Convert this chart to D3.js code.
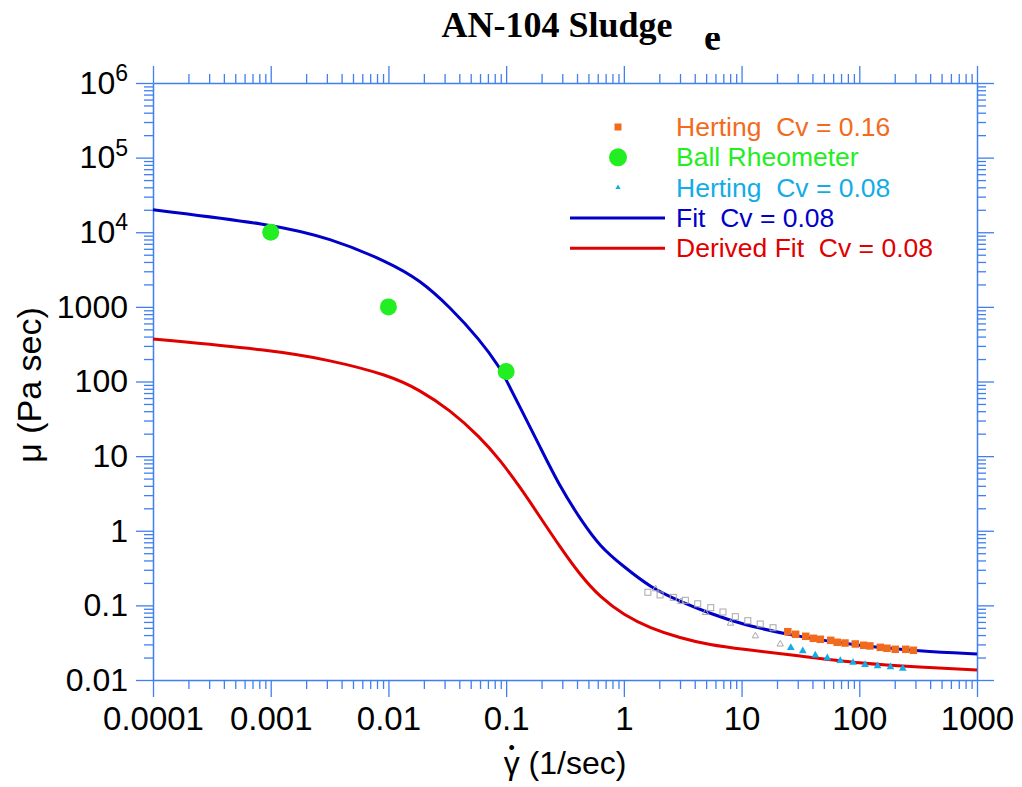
<!DOCTYPE html>
<html>
<head>
<meta charset="utf-8">
<script src="https://cdn.jsdelivr.net/npm/d3@7"></script>
<style>
  body { margin: 0; background: #fff; }
  text { font-family: "Liberation Sans", Arial, sans-serif; white-space: pre; }
</style>
</head>
<body>
<svg width="1022" height="787"></svg>
<script>
// shear rate (1/sec) and viscosity (Pa sec)
var fitShear = [1e-4, 1e-3, 3.19e-3, 0.01, 0.0185, 0.0333, 0.060, 0.0887, 0.1, 0.131, 0.194, 0.287, 0.425, 0.627, 1, 1.67, 3.0, 5.4, 10, 31.4, 100, 328, 1000];
var fitVisc  = [20000, 12900, 8370, 3990, 2290, 996, 360, 152, 105, 45.5, 13.3, 3.86, 1.45, 0.61, 0.33, 0.175, 0.113, 0.078, 0.0555, 0.0377, 0.0286, 0.0245, 0.0223];

var derivedShear = [1e-4, 1e-3, 3.19e-3, 0.01, 0.0185, 0.0333, 0.060, 0.0887, 0.131, 0.194, 0.287, 0.425, 0.627, 1, 1.67, 3.0, 5.4, 10, 31.4, 100, 328, 1000];
var derivedVisc  = [371, 264, 194, 122, 76.9, 41.5, 18.0, 8.87, 3.86, 1.53, 0.606, 0.255, 0.129, 0.0743, 0.0497, 0.0366, 0.0294, 0.0259, 0.0210, 0.0167, 0.0148, 0.0136];

var ballShear = [0.001, 0.01, 0.1];
var ballVisc  = [10000, 1000, 136];

var herting16Shear = [24.7, 28.8, 35.1, 40.7, 46.7, 57.2, 65.0, 75.6, 92.5, 109, 123, 151, 172, 202, 248, 288];
var herting16Visc  = [0.0444, 0.0410, 0.0385, 0.0362, 0.0351, 0.0340, 0.0320, 0.0313, 0.0304, 0.0292, 0.0286, 0.0274, 0.0266, 0.0258, 0.0258, 0.0250];

var herting08Shear = [26.2, 33.1, 42.3, 53.5, 69.0, 88.5, 112, 143, 184, 234];
var herting08Visc  = [0.0271, 0.0245, 0.0214, 0.0197, 0.0181, 0.0171, 0.0160, 0.0154, 0.0149, 0.0143];

// unlabelled grey series
var greySqShear = [1.60, 2.03, 2.63, 3.33, 4.24, 5.47, 6.95, 8.85, 11.3, 14.4, 18.5];
var greySqVisc  = [0.150, 0.138, 0.128, 0.117, 0.105, 0.0931, 0.0815, 0.0705, 0.0623, 0.0563, 0.0502];
var greyTriShear = [1.86, 3.06, 4.94, 8.05, 13.1, 21.3];
var greyTriVisc  = [0.166, 0.112, 0.0798, 0.0575, 0.0389, 0.0302];

var legendLabels = ["Herting  Cv = 0.16", "Ball Rheometer", "Herting  Cv = 0.08", "Fit  Cv = 0.08", "Derived Fit  Cv = 0.08"];

var xTickLabels = ["0.0001", "0.001", "0.01", "0.1", "1", "10", "100", "1000"];
var yTickLabels = ["0.01", "0.1", "1", "10", "100", "1000", "10^4", "10^5", "10^6"];

var colors = {
  axis: "#3f7ff2", orange: "#f26b1d", green: "#22ee22", cyan: "#12ade6",
  blue: "#0000c8", red: "#e00000", grey: "#a8a8a8"
};

var svg = d3.select("svg");
var plotL = 153, plotR = 977, plotT = 83, plotB = 680;

var x = d3.scaleLog().domain([1e-4, 1e3]).range([plotL, plotR]);
var y = d3.scaleLog().domain([0.01, 1e6]).range([plotB, plotT]);

function logTicks(lo, hi) {
  var t = [];
  for (var n = lo; n < hi; n++) {
    for (var k = 1; k <= 9; k++) t.push(+(k + "e" + n));
  }
  t.push(+("1e" + hi));
  return t;
}
function isMajor(d) {
  var l = Math.log10(d);
  return Math.abs(l - Math.round(l)) < 1e-9;
}

var xt = logTicks(-4, 3), yt = logTicks(-2, 6);

function styleAxis(g, minorAttr, minorVal) {
  g.selectAll("path").attr("stroke", colors.axis).attr("stroke-width", 1.5);
  g.selectAll(".tick line").attr("stroke", colors.axis).attr("stroke-width", 1.3);
  g.selectAll(".tick").filter(function(d) { return !isMajor(d); })
    .select("line").attr(minorAttr, minorVal);
}

// bottom
var gx = svg.append("g").attr("transform", "translate(0," + plotB + ")")
  .call(d3.axisBottom(x).tickValues(xt).tickSize(17).tickSizeOuter(0).tickPadding(10)
    .tickFormat(function(d) { return isMajor(d) ? xTickLabels[Math.round(Math.log10(d)) + 4] : ""; }));
styleAxis(gx, "y2", 9);
gx.selectAll("text").attr("fill", "#000").style("font-size", "33px");

// top
var gt = svg.append("g").attr("transform", "translate(0," + plotT + ")")
  .call(d3.axisTop(x).tickValues(xt).tickSize(17).tickSizeOuter(0).tickFormat(""));
styleAxis(gt, "y2", -9);

// left
var gy = svg.append("g").attr("transform", "translate(" + plotL + ",0)")
  .call(d3.axisLeft(y).tickValues(yt).tickSize(17).tickSizeOuter(0).tickPadding(8)
    .tickFormat(function(d) { return isMajor(d) ? yTickLabels[Math.round(Math.log10(d)) + 2] : ""; }));
styleAxis(gy, "x2", -9);
gy.selectAll("text").attr("fill", "#000").style("font-size", "32px")
  .each(function() {
    var t = d3.select(this), s = t.text();
    if (s.indexOf("^") > 0) {
      var p = s.split("^");
      t.text(p[0]);
      t.append("tspan").attr("dy", "-0.55em").style("font-size", "23px").text(p[1]);
    }
  });

// right
var gr = svg.append("g").attr("transform", "translate(" + plotR + ",0)")
  .call(d3.axisRight(y).tickValues(yt).tickSize(17).tickSizeOuter(0).tickFormat(""));
styleAxis(gr, "x2", 9);

function pairs(xs, ys) { return xs.map(function(v, i) { return [v, ys[i]]; }); }

var line = d3.line()
  .x(function(d) { return x(d[0]); })
  .y(function(d) { return y(d[1]); })
  .curve(d3.curveBasis);

svg.append("path").datum(pairs(derivedShear, derivedVisc))
  .attr("d", line).attr("fill", "none").attr("stroke", colors.red).attr("stroke-width", 3);
svg.append("path").datum(pairs(fitShear, fitVisc))
  .attr("d", line).attr("fill", "none").attr("stroke", colors.blue).attr("stroke-width", 3);

// grey open markers
svg.append("g").selectAll("rect").data(pairs(greySqShear, greySqVisc)).enter().append("rect")
  .attr("x", function(d) { return x(d[0]) - 3; })
  .attr("y", function(d) { return y(d[1]) - 3; })
  .attr("width", 6).attr("height", 6)
  .attr("fill", "none").attr("stroke", colors.grey).attr("stroke-width", 1);
svg.append("g").selectAll("path").data(pairs(greyTriShear, greyTriVisc)).enter().append("path")
  .attr("d", d3.symbol().type(d3.symbolTriangle).size(18))
  .attr("transform", function(d) { return "translate(" + x(d[0]) + "," + y(d[1]) + ")"; })
  .attr("fill", "none").attr("stroke", colors.grey).attr("stroke-width", 1);

// Herting data
svg.append("g").selectAll("rect").data(pairs(herting16Shear, herting16Visc)).enter().append("rect")
  .attr("x", function(d) { return x(d[0]) - 3.75; })
  .attr("y", function(d) { return y(d[1]) - 3.75; })
  .attr("width", 7.5).attr("height", 7.5).attr("fill", colors.orange);
svg.append("g").selectAll("path").data(pairs(herting08Shear, herting08Visc)).enter().append("path")
  .attr("d", d3.symbol().type(d3.symbolTriangle).size(26))
  .attr("transform", function(d) { return "translate(" + x(d[0]) + "," + y(d[1]) + ")"; })
  .attr("fill", colors.cyan);

// ball rheometer
svg.append("g").selectAll("circle").data(pairs(ballShear, ballVisc)).enter().append("circle")
  .attr("cx", function(d) { return x(d[0]); })
  .attr("cy", function(d) { return y(d[1]); })
  .attr("r", 8.5).attr("fill", colors.green);

// legend
var legColors = [colors.orange, colors.green, colors.cyan, colors.blue, colors.red];
var leg = svg.append("g");
legendLabels.forEach(function(lbl, i) {
  var cy = 127 + i * 30.3;
  if (i == 0) leg.append("rect").attr("x", 614.5).attr("y", cy - 3.5).attr("width", 7).attr("height", 7).attr("fill", legColors[i]);
  if (i == 1) leg.append("circle").attr("cx", 618).attr("cy", cy).attr("r", 9).attr("fill", legColors[i]);
  if (i == 2) leg.append("path").attr("d", d3.symbol().type(d3.symbolTriangle).size(12))
    .attr("transform", "translate(618," + cy + ")").attr("fill", legColors[i]);
  if (i >= 3) leg.append("line").attr("x1", 570).attr("x2", 665).attr("y1", cy).attr("y2", cy)
    .attr("stroke", legColors[i]).attr("stroke-width", 3);
  leg.append("text").attr("x", 676).attr("y", cy + 9).attr("fill", legColors[i])
    .style("font-size", "26.5px").text(lbl);
});

// titles
svg.append("text").attr("x", 557).attr("y", 37).attr("text-anchor", "middle")
  .style("font-family", "'Liberation Serif', 'Times New Roman', serif")
  .style("font-weight", "bold").style("font-size", "36px").text("AN-104 Sludge");

svg.append("clipPath").attr("id", "eclip").append("rect").attr("x", 690).attr("y", 33).attr("width", 40).attr("height", 30);
svg.append("text").attr("x", 704).attr("y", 50).attr("clip-path", "url(#eclip)")
  .style("font-family", "'Liberation Serif', 'Times New Roman', serif")
  .style("font-weight", "bold").style("font-size", "38px").text("e");

var xTitle = svg.append("text").attr("x", 565).attr("y", 774).attr("text-anchor", "middle")
  .style("font-size", "32px");
xTitle.append("tspan").text("\u03B3");
xTitle.append("tspan").text(" (1/sec)");
var g0 = xTitle.node().getExtentOfChar(0);
svg.append("text").attr("x", g0.x + g0.width / 2).attr("y", g0.y + 9)
  .attr("text-anchor", "middle").style("font-size", "18px").text("\u2022");

svg.append("text").attr("transform", "translate(41,385) rotate(-90)").attr("text-anchor", "middle")
  .style("font-size", "34px").text("\u03BC (Pa sec)");
</script>
</body>
</html>
